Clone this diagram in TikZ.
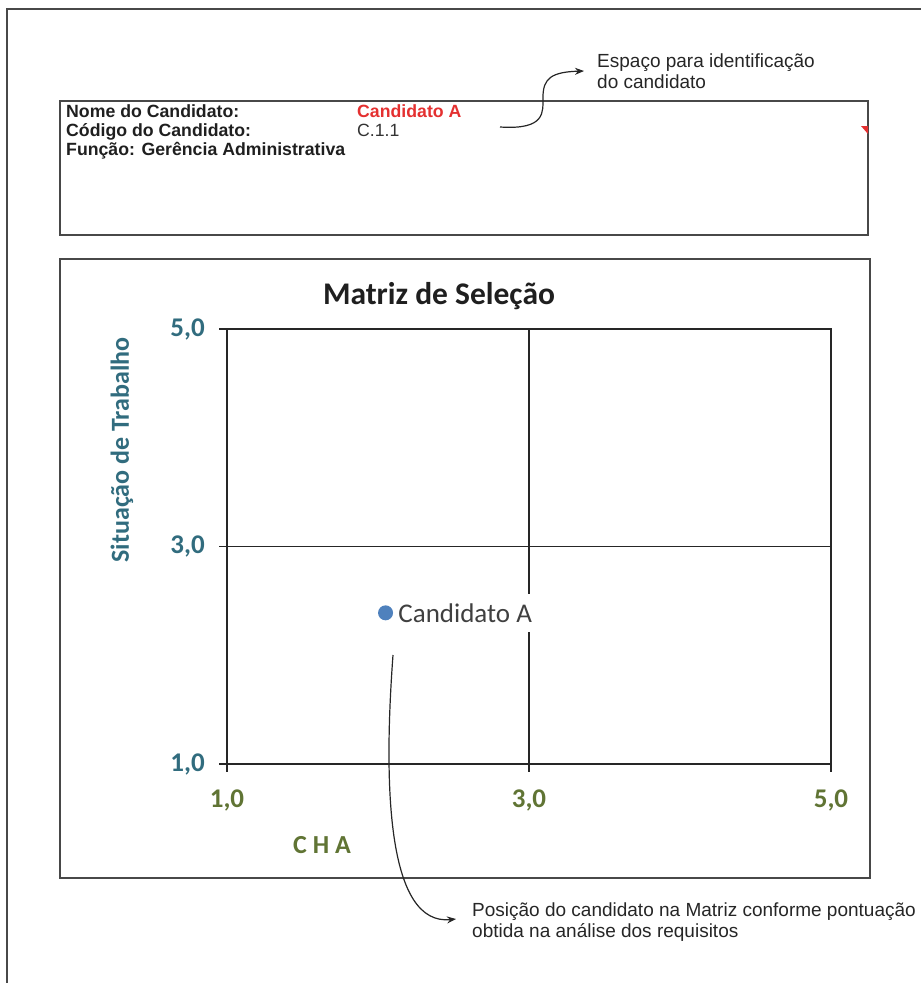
\documentclass[tikz,border=0pt]{standalone}
\usepackage{fontspec}
\setmainfont{Liberation Sans}
\newfontfamily\chartfont{Carlito}
\usepackage{xcolor}
\usetikzlibrary{arrows.meta,positioning,calc}

\definecolor{framegray}{RGB}{72,72,72}
\definecolor{axisteal}{RGB}{49,108,126}
\definecolor{axisolive}{RGB}{96,116,52}
\definecolor{pointblue}{RGB}{79,129,189}
\definecolor{namered}{RGB}{228,48,48}

\begin{document}
\begin{tikzpicture}[
        x=1pt, y=-1pt,
        frame_line/.style={
            draw=framegray,
            line width=1.8pt
        },
        box_line/.style={
            draw=framegray,
            line width=1.4pt
        },
        grid_line/.style={
            draw=black!85,
            line width=1.1pt
        },
        head_label/.style={
            anchor=base west,
            inner sep=0pt,
            text=black!88,
            font=\fontsize{17.7}{21}\selectfont\bfseries
        },
        note_text/.style={
            anchor=west,
            align=left,
            inner sep=0pt,
            text=black!85,
            font=\fontsize{19}{21.5}\selectfont
        },
        note_arrow/.style={
            draw=black!85,
            line width=1.2pt,
            -{Stealth[length=9pt,width=7pt]}
        },
        y_tick/.style={
            anchor=east,
            inner sep=0pt,
            text=axisteal,
            font=\chartfont\fontsize{27}{30}\selectfont\bfseries
        },
        x_tick/.style={
            inner sep=0pt,
            text=axisolive,
            font=\chartfont\fontsize{27}{30}\selectfont\bfseries
        },
        axis_title/.style={
            inner sep=0pt,
            font=\chartfont\fontsize{26}{30}\selectfont\bfseries
        },
        point_dot/.style={
            circle,
            fill=pointblue,
            minimum size=15pt,
            inner sep=0pt
        },
        point_label/.style={
            fill=white,
            inner sep=3pt,
            minimum height=38pt,
            text=black!75,
            font=\chartfont\fontsize{27}{30}\selectfont
        }
    ]
        \useasboundingbox (0,0) rectangle (921,983);

        % Outer page frame
        \draw[frame_line] (7,983) -- (7,9) -- (921,9);

        % Candidate box
        \draw[box_line] (60,101) rectangle (868,235);
        \fill[namered] (861,126) -- (868,126) -- (868,134) -- cycle;
        \node[head_label] (name_lbl) at (66,117) {Nome do Candidato:};
        \node[head_label] (code_lbl) at (66,136) {Código do Candidato:};
        \node[head_label] (func_lbl) at (66,155) {Função: Gerência Administrativa};
        \node[head_label, text=namered] (name_val) at (357,117) {Candidato A};
        \node[head_label, font=\fontsize{17.7}{21}\selectfont, text=black!80] (code_val) at (357,136) {C.1.1};

        % Chart box
        \draw[box_line] (60,259) rectangle (870,878);
        \node[axis_title, text=black!88, font=\chartfont\fontsize{31.5}{34}\selectfont\bfseries] (title) at (439,296) {Matriz de Seleção};
        \node[axis_title, text=axisteal, rotate=90] (y_title) at (122,450) {Situação de Trabalho};
        \node[axis_title, text=axisolive] (x_title) at (322,845) {C H A};

        \begin{scope}[shift={(76,872.75)}, x=151pt, y=108.75pt]
            % Grid
            \draw[grid_line] (1,1) rectangle (5,5);
            \draw[grid_line] (3,1) -- (3,5);
            \draw[grid_line] (1,3) -- (5,3);
            \foreach \t in {1,3,5} {
                \draw[grid_line] (\t,1) -- ++(0pt,-8pt);
                \draw[grid_line] (1,\t) -- ++(-8pt,0pt);
                \node[y_tick] (ytick\t) at ([xshift=-22pt]1,\t) {\t,0};
                \node[x_tick] (xtick\t) at ([yshift=-36pt]\t,1) {\t,0};
            }

            % Candidate position
            \node[point_dot] (cand) at (2.05,2.39) {};
            \node[point_label, right=2pt of cand] (cand_lbl) {Candidato A};
        \end{scope}

        % Notes
        \node[note_text] (note_id) at (597,71) {Espaço para identificação\\do candidato};
        \node[note_text] (note_pos) at (472,922) {Posição do candidato na Matriz conforme pontuação\\obtida na análise dos requisitos};

        \coordinate (id_start) at (500,127);
        \coordinate (pos_start) at (393,655);
        \draw[note_arrow] (id_start) .. controls (546,130) and (543,112) .. (543,97)
            .. controls (543,78) and (552,72) .. ([xshift=-13pt]note_id.west);
        \draw[note_arrow] (pos_start) .. controls (383,790) and (388,926) .. ([xshift=-16pt,yshift=3pt]note_pos.west);
    \end{tikzpicture}
\end{document}
